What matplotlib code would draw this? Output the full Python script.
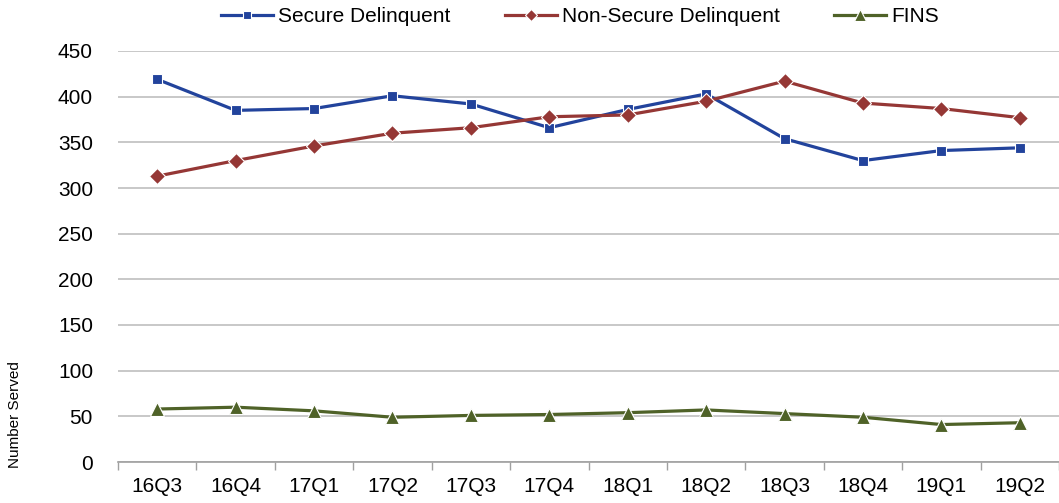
import matplotlib
matplotlib.use("Agg")
import matplotlib.pyplot as plt
import numpy as np

categories = ["16Q3", "16Q4", "17Q1", "17Q2", "17Q3", "17Q4", "18Q1", "18Q2", "18Q3", "18Q4", "19Q1", "19Q2"]
secure = [419, 385, 387, 401, 392, 366, 386, 403, 354, 330, 341, 344]
non_secure = [313, 330, 346, 360, 366, 378, 380, 395, 417, 393, 387, 377]
fins = [58, 60, 56, 49, 51, 52, 54, 57, 53, 49, 41, 43]
yticks = [0, 50, 100, 150, 200, 250, 300, 350, 400, 450]

plt.rcParams['font.family'] = ['Liberation Sans', 'DejaVu Sans']

W, H = 1059, 503
fig = plt.figure(figsize=(W / 100, H / 100), dpi=100)
left, right, top, bottom = 118, 1059, 51, 462
ax = fig.add_axes([left / W, 1 - bottom / H, (right - left) / W, (bottom - top) / H])

x = np.arange(len(categories))
ax.plot(x, secure, color='#22439C', lw=2.3, marker='s', ms=7, mfc='#22439C', mec='white', mew=0.8, label='Secure Delinquent', zorder=3)
ax.plot(x, non_secure, color='#953735', lw=2.3, marker='D', ms=8, mfc='#953735', mec='white', mew=0.8, label='Non-Secure Delinquent', zorder=3)
ax.plot(x, fins, color='#4F6228', lw=2.3, marker='^', ms=10, mfc='#4F6228', mec='white', mew=0.8, label='FINS', zorder=3)

ax.set_ylim(0, 450)
ax.set_xlim(-0.5, 11.5 - 5 / 78.9)
ax.set_yticks(yticks)
ax.set_yticklabels([str(v) for v in yticks], fontsize=15)
ax.grid(axis='y', color='#BFBFBF', lw=1.2)
ax.set_axisbelow(True)
ax.set_xticks(x)
ax.set_xticklabels(categories, fontsize=15)
ax.set_xticks(np.arange(-0.5, 11.6, 1), minor=True)
ax.tick_params(axis='x', which='major', length=0, pad=11)
ax.tick_params(axis='x', which='minor', length=6, color='#A0A0A0', width=1)
ax.tick_params(axis='y', length=0, pad=18)
for s in ['top', 'right', 'left']:
    ax.spines[s].set_visible(False)
ax.spines['bottom'].set_color('#A0A0A0')
ax.spines['bottom'].set_linewidth(1.2)

fig.text(15 / W, 1 - 415 / H, 'Number Served', rotation=90, fontsize=11, ha='center', va='center')

leg = fig.legend(loc='center', bbox_to_anchor=(580 / W, 1 - 17 / H), ncol=3, frameon=False,
                 fontsize=15, handlelength=2.5, columnspacing=2.6, handletextpad=0.25,
                 markerscale=0.8)

fig.savefig('out.png', dpi=100)
